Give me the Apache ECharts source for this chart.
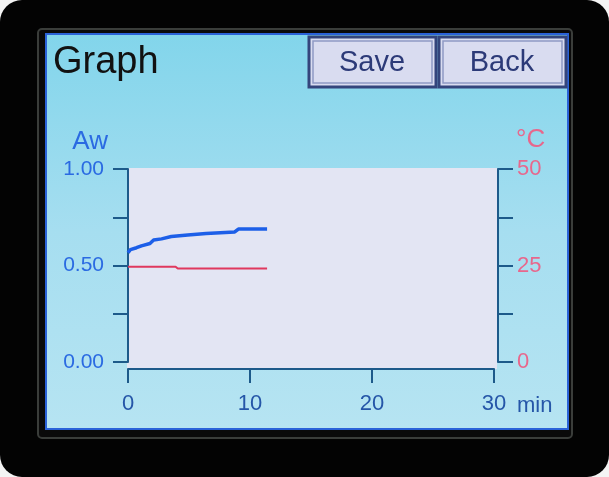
<!DOCTYPE html>
<html>
<head>
<meta charset="utf-8">
<script src="https://cdn.jsdelivr.net/npm/echarts@6/dist/echarts.min.js"></script>
<style>
html,body{margin:0;padding:0;background:#f4f4f4;}
#chart{width:609px;height:477px;}
</style>
</head>
<body>
<div id="chart"></div>
<script>
// ---- data ----
const awTime   = [0, 0.2, 0.25, 0.7, 0.75, 1.1, 1.15, 1.8, 1.85, 2.1, 2.75, 2.8, 3.55, 3.6, 4.9, 4.95, 6.4, 6.45, 8.75, 9.05, 11.4];
const awValue  = [0.566, 0.582, 0.590, 0.592, 0.600, 0.602, 0.612, 0.614, 0.622, 0.632, 0.638, 0.648, 0.650, 0.656, 0.658, 0.664, 0.666, 0.672, 0.674, 0.689, 0.689];
const tempTime  = [0, 3.9, 3.97, 4.02, 4.08, 11.4];
const tempValue = [24.7, 24.7, 24.2, 24.6, 24.2, 24.2];
const awTickLabels   = ['0.00', '0.50', '1.00'];
const tempTickLabels = ['0', '25', '50'];
const timeTickLabels = ['0', '10', '20', '30'];
const titleText = 'Graph';
const buttons = ['Save', 'Back'];

const chart = echarts.init(document.getElementById('chart'), null, {renderer: 'canvas'});

const axisColor = '#1d5a8a';
const awColor = '#2a6ae2';
const tempLabelColor = '#e8678c';

const option = {
  animation: false,
  graphic: [
    {type:'rect', z:-10, shape:{x:0,y:0,width:609,height:477,r:22}, style:{fill:'#030303'}},
    {type:'rect', z:-9, shape:{x:38,y:29,width:534,height:409,r:4}, style:{fill:'#0a0a0a', stroke:'#3a3d3a', lineWidth:2}},
    {type:'rect', z:-8, shape:{x:46,y:34,width:522,height:395},
      style:{fill:{type:'linear',x:0,y:0,x2:0,y2:1,colorStops:[{offset:0,color:'#82d5eb'},{offset:0.5,color:'#a6def0'},{offset:1,color:'#b6e4f2'}]},
             stroke:'#2a62d8', lineWidth:2}},
    {type:'rect', z:-7, shape:{x:127,y:168,width:370,height:201}, style:{fill:'#e3e5f3'}},
    {type:'text', z:5, style:{x:53, y:63, text:titleText, fill:'#111111', font:'38px "Liberation Sans"', verticalAlign:'middle', textAlign:'left'}},
    // buttons
    {type:'rect', z:4, shape:{x:309,y:37,width:127,height:50}, style:{fill:'#d9dcf0', stroke:'#34457c', lineWidth:3}},
    {type:'rect', z:4, shape:{x:313,y:41,width:119,height:42}, style:{fill:'none', stroke:'#8e99c4', lineWidth:1.5}},
    {type:'text', z:5, style:{x:372, y:63, text:buttons[0], fill:'#2c3a78', font:'29px "Liberation Sans"', textAlign:'center', verticalAlign:'middle'}},
    {type:'rect', z:4, shape:{x:439,y:37,width:127,height:50}, style:{fill:'#d9dcf0', stroke:'#34457c', lineWidth:3}},
    {type:'rect', z:4, shape:{x:443,y:41,width:119,height:42}, style:{fill:'none', stroke:'#8e99c4', lineWidth:1.5}},
    {type:'text', z:5, style:{x:502, y:63, text:buttons[1], fill:'#2c3a78', font:'29px "Liberation Sans"', textAlign:'center', verticalAlign:'middle'}}
  ],
  grid: {left:128, top:169, right:115, bottom:115, containLabel:false},
  xAxis: {
    type:'value', min:0, max:30, interval:10, position:'bottom', offset:7,
    axisLine:{show:true, onZero:false, lineStyle:{color:axisColor, width:2}},
    axisTick:{show:true, length:14, lineStyle:{color:axisColor, width:2}},
    splitLine:{show:false},
    axisLabel:{color:'#2556a8', fontSize:22, fontFamily:'Liberation Sans', margin:24,
      formatter: v => timeTickLabels[Math.round(v/10)] ?? ''},
    name:'min', nameLocation:'end', nameGap:23,
    nameTextStyle:{color:'#2556a8', fontSize:22, fontFamily:'Liberation Sans', verticalAlign:'top', padding:[26,0,0,0]}
  },
  yAxis: [
    {
      type:'value', min:0, max:1, interval:0.25, position:'left', offset:3,
      axisLine:{show:true, lineStyle:{color:axisColor, width:2}},
      axisTick:{show:true, length:15, lineStyle:{color:axisColor, width:2}},
      splitLine:{show:false},
      axisLabel:{color:awColor, fontSize:21, fontFamily:'Liberation Sans', margin:21,
        formatter: v => { const i = Math.round(v*4); return i % 2 === 0 ? awTickLabels[i/2] : ''; }},
      name:'Aw', nameLocation:'end', nameGap:14,
      nameTextStyle:{color:awColor, fontSize:26, fontFamily:'Liberation Sans', align:'right', padding:[0,20,0,0]}
    },
    {
      type:'value', min:0, max:50, interval:12.5, position:'right', offset:4,
      axisLine:{show:true, lineStyle:{color:axisColor, width:2}},
      axisTick:{show:true, length:15, lineStyle:{color:axisColor, width:2}},
      splitLine:{show:false},
      axisLabel:{color:tempLabelColor, fontSize:22, fontFamily:'Liberation Sans', margin:19,
        formatter: v => { const i = Math.round(v/12.5); return i % 2 === 0 ? tempTickLabels[i/2] : ''; }},
      name:'°C', nameLocation:'end', nameGap:16,
      nameTextStyle:{color:tempLabelColor, fontSize:26, fontFamily:'Liberation Sans', align:'left', padding:[0,0,0,18]}
    }
  ],
  series: [
    {type:'line', yAxisIndex:0, symbol:'none', data: awTime.map((t,i)=>[t, awValue[i]]),
      lineStyle:{color:'#1d5fe8', width:3.5}, z:3},
    {type:'line', yAxisIndex:1, symbol:'none', data: tempTime.map((t,i)=>[t, tempValue[i]]),
      lineStyle:{color:'#e0385e', width:2}, z:3}
  ]
};
chart.setOption(option);
</script>
</body>
</html>
